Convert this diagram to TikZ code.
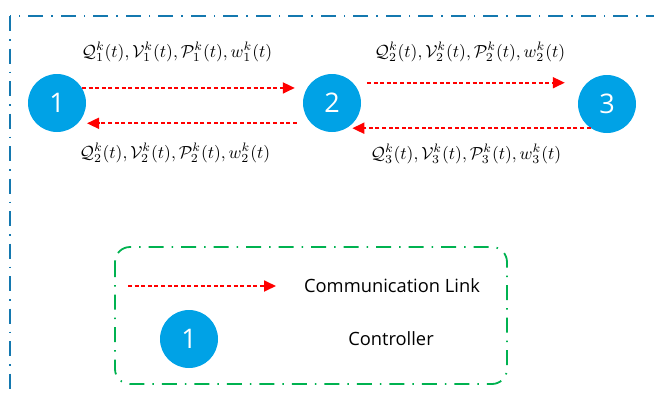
\documentclass[tikz,border=0pt]{standalone}
\usepackage{graphicx}
\usepackage{fontspec}
\setmainfont{Open Sans}
\usetikzlibrary{arrows.meta,calc}
\definecolor{frameblue}{RGB}{20,120,175}
\definecolor{nodeblue}{RGB}{0,162,230}
\definecolor{legendgreen}{RGB}{0,178,80}
\newcommand{\mlab}[1]{\scalebox{1.75}{$#1$}}
\begin{document}
\begin{tikzpicture}[x=1pt,y=-1pt,
  ctrl/.style={circle,fill=nodeblue,draw=none,minimum size=58pt,inner sep=0pt,text=white,font=\fontsize{27}{30}\selectfont},
  link/.style={red,line width=1.8pt,dash pattern=on 4pt off 2.6pt,-{Triangle[length=12pt,width=11pt]}},
  lab/.style={inner sep=0pt},
  legtext/.style={font=\fontsize{18.3}{21}\selectfont,inner sep=0pt},
  dashdot/.style={line width=1.8pt,dash pattern=on 15pt off 8pt on 1.5pt off 8pt}]
\useasboundingbox (0,0) rectangle (654,394);
\begin{scope}
\clip (0,0) rectangle (654,394);
\draw[frameblue,dashdot] (10,16) rectangle (720,460);
\end{scope}
% controllers
\node[ctrl] (n1) at (57,103) {1};
\node[ctrl] (n2) at (332,103) {2};
\node[ctrl] (n3) at (607,104) {3};
% links
\draw[link,shorten >=8pt] (n1.31) -- (n1.31 -| n2.west);
\draw[link,shorten <=6pt,shorten >=9pt] (n2.west |- n1.-44) -- (n1.-44);
\draw[link,shorten <=14pt,shorten >=13pt] (n2.44) -- (n2.44 -| n3.west);
\draw[link,shorten >=4pt] (n3.-124) -- (n3.-124 -| n2.-56);
% labels
\node[lab] (l12) at (177,52) {\mlab{\mathcal{Q}_1^k(t), \mathcal{V}_1^k(t), \mathcal{P}_1^k(t), w_1^k(t)}};
\node[lab] (l23) at (470,52) {\mlab{\mathcal{Q}_2^k(t), \mathcal{V}_2^k(t), \mathcal{P}_2^k(t), w_2^k(t)}};
\node[lab] (l21) at (175,153) {\mlab{\mathcal{Q}_2^k(t), \mathcal{V}_2^k(t), \mathcal{P}_2^k(t), w_2^k(t)}};
\node[lab] (l32) at (466,154) {\mlab{\mathcal{Q}_3^k(t), \mathcal{V}_3^k(t), \mathcal{P}_3^k(t), w_3^k(t)}};
% legend
\draw[legendgreen,dashdot,rounded corners=15pt] (115,247) rectangle (507,384);
\coordinate (la) at (128,286);
\coordinate (lb) at (276,286);
\draw[link] (la) -- (lb);
\node[legtext] (tcl) at (392,286) {Communication Link};
\node[ctrl] (lc) at (189,339) {1};
\node[legtext] (tct) at (391,339) {Controller};
\end{tikzpicture}
\end{document}
